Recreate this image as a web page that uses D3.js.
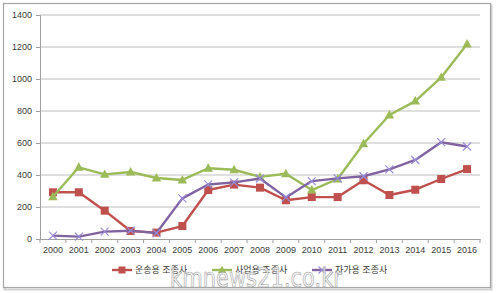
<!DOCTYPE html>
<html lang="ko">
<head>
  <meta charset="UTF-8" />
  <title>조종사 자격증명 발급 현황</title>
  <script src="https://d3js.org/d3.v7.min.js"></script>
  <style>
    body { margin: 0; background: #fff; }
    svg { display: block; font-family: 'Noto Sans CJK KR', 'DejaVu Sans', sans-serif; }
  </style>
</head>
<body>
  <div id="chart"></div>
  <script>
    const years = ["2000","2001","2002","2003","2004","2005","2006","2007","2008",
                   "2009","2010","2011","2012","2013","2014","2015","2016"];
    const transport = [292, 292, 177, 50, 40, 81, 306, 340, 321, 242, 262, 262, 367, 275, 308, 375, 437];
    const commercial = [264, 448, 404, 419, 381, 369, 442, 433, 388, 408, 306, 375, 595, 775, 862, 1010, 1219];
    const privatePilot = [21, 15, 46, 52, 37, 254, 341, 354, 378, 260, 362, 379, 392, 435, 494, 605, 578];
    const yTicks = [0, 200, 400, 600, 800, 1000, 1200, 1400];

    const series = [
      { name: "운송용 조종사", values: transport, color: "#c0504d", marker: "square" },
      { name: "사업용 조종사", values: commercial, color: "#9bbb59", marker: "triangle" },
      { name: "자가용 조종사", values: privatePilot, color: "#8064a2", marker: "x" }
    ];

    const width = 500, height = 293;
    const plot = { left: 40, right: 480, top: 15, bottom: 239 };

    const svg = d3.select("#chart").append("svg")
      .attr("width", width)
      .attr("height", height);

    // outer frame
    svg.append("rect")
      .attr("x", 4.5).attr("y", 5.5)
      .attr("width", 487).attr("height", 284)
      .attr("fill", "none").attr("stroke", "#d0d0d0").attr("stroke-width", 2);
    svg.append("rect")
      .attr("x", 3.5).attr("y", 3.5)
      .attr("width", 487).attr("height", 284)
      .attr("fill", "#fff").attr("stroke", "#a6a6a6").attr("stroke-width", 1.2);

    const x = d3.scaleBand().domain(years).range([plot.left, plot.right]);
    const y = d3.scaleLinear().domain([0, 1400]).range([plot.bottom, plot.top]);
    const cx = d => x(d) + x.bandwidth() / 2;

    // gridlines
    svg.append("g")
      .selectAll("line")
      .data(yTicks.slice(1))
      .join("line")
      .attr("x1", plot.left).attr("x2", plot.right)
      .attr("y1", d => y(d)).attr("y2", d => y(d))
      .attr("stroke", "#bfbfbf").attr("stroke-width", 1);

    // y axis
    const yAxis = svg.append("g")
      .attr("transform", `translate(${plot.left},0)`)
      .call(d3.axisLeft(y).tickValues(yTicks).tickFormat(d3.format("d")).tickSize(4).tickPadding(4));
    yAxis.select(".domain").attr("stroke", "#a0a0a0");
    yAxis.selectAll(".tick line").attr("stroke", "#a0a0a0");
    yAxis.selectAll("text").attr("fill", "#404040").style("font-size", "9px");

    // x axis with ticks between categories
    const xAxis = svg.append("g")
      .attr("transform", `translate(0,${plot.bottom})`)
      .call(d3.axisBottom(x).tickSize(0).tickPadding(8));
    xAxis.select(".domain").attr("stroke", "#a0a0a0");
    xAxis.selectAll("text").attr("fill", "#404040").style("font-size", "9px");
    xAxis.selectAll(".sep")
      .data(years.concat(["end"]))
      .join("line")
      .attr("class", "sep")
      .attr("x1", (d, i) => plot.left + i * x.step())
      .attr("x2", (d, i) => plot.left + i * x.step())
      .attr("y1", 0).attr("y2", 4)
      .attr("stroke", "#a0a0a0");

    const line = d3.line()
      .x((d, i) => cx(years[i]))
      .y(d => y(d));

    function drawMarker(g, type, color, size) {
      if (type === "square") {
        g.append("rect")
          .attr("x", -size / 2).attr("y", -size / 2)
          .attr("width", size).attr("height", size)
          .attr("fill", color);
      } else if (type === "triangle") {
        const s = size * 0.62;
        g.append("path")
          .attr("d", `M0,${-s}L${s * 0.95},${s * 0.7}L${-s * 0.95},${s * 0.7}Z`)
          .attr("fill", color);
      } else {
        const s = size / 2;
        g.append("path")
          .attr("d", `M${-s},${-s}L${s},${s}M${-s},${s}L${s},${-s}`)
          .attr("stroke", "#9a8cd8").attr("stroke-width", 1.2);
      }
    }

    for (const s of series) {
      svg.append("path")
        .datum(s.values)
        .attr("d", line)
        .attr("fill", "none")
        .attr("stroke", s.color)
        .attr("stroke-width", 2.4)
        .attr("stroke-linejoin", "round");

      svg.append("g")
        .selectAll("g")
        .data(s.values)
        .join("g")
        .attr("transform", (d, i) => `translate(${cx(years[i])},${y(d)})`)
        .each(function () { drawMarker(d3.select(this), s.marker, s.color, 8); });
    }

    // legend
    const legendX = [112, 212, 312];
    const legend = svg.append("g")
      .selectAll("g")
      .data(series)
      .join("g")
      .attr("transform", (d, i) => `translate(${legendX[i]},270)`);
    legend.append("line")
      .attr("x1", 0).attr("x2", 20)
      .attr("stroke", d => d.color).attr("stroke-width", 2.4);
    legend.append("g")
      .attr("transform", "translate(10,0)")
      .each(function (d) { drawMarker(d3.select(this), d.marker, d.color, 7); });
    legend.append("text")
      .attr("x", 23).attr("dy", "0.35em")
      .attr("fill", "#404040")
      .style("font-size", "9px")
      .text(d => d.name);

    // watermark
    svg.append("text")
      .attr("x", 170).attr("y", 287)
      .attr("textLength", 172)
      .attr("lengthAdjust", "spacingAndGlyphs")
      .attr("fill", "#f2f2f2")
      .attr("fill-opacity", 0.7)
      .attr("stroke", "#9a9a9a")
      .attr("stroke-width", 0.6)
      .style("font-family", "'DejaVu Sans', sans-serif")
      .style("font-size", "26px")
      .text("kmnews21.co.kr");
  </script>
</body>
</html>
